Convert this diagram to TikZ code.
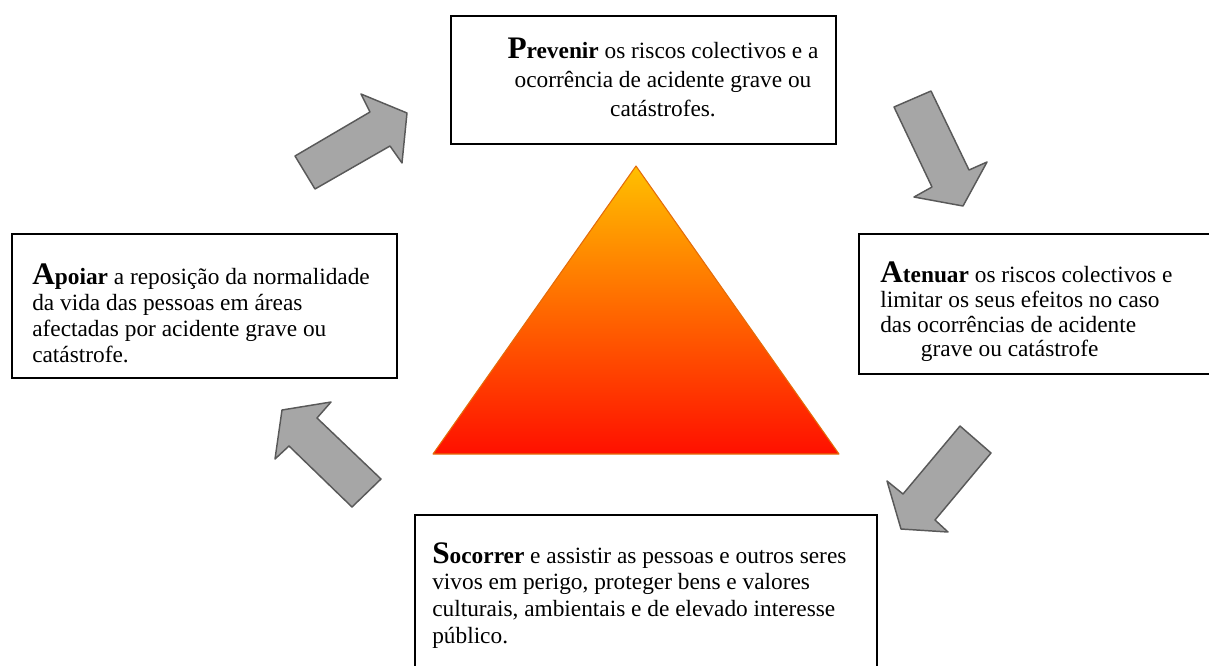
\documentclass[tikz,border=0pt]{standalone}
\usepackage{fontspec}
\setmainfont{Liberation Serif}
\usetikzlibrary{fit}
\definecolor{arrfill}{RGB}{166,166,166}
\definecolor{arrline}{RGB}{89,89,89}
\definecolor{triTop}{RGB}{255,192,0}
\definecolor{triBot}{RGB}{255,16,0}
\definecolor{triLine}{RGB}{228,108,10}
\newcommand{\leadword}[2]{{\fontsize{23.5}{23.5}\selectfont\bfseries #1}\textbf{#2}}
\begin{document}
\begin{tikzpicture}[x=0.75pt,y=-0.75pt,
  box/.style={draw=black, line width=1.2pt, inner sep=0pt},
  txt/.style={inner sep=0pt, align=left},
  blockarrow/.style={fill=arrfill, draw=arrline, line width=1.1pt, line join=round}]
\useasboundingbox (0,0) rectangle (1209,665);
\clip (0,0) rectangle (1209,665);

% boxes
\node[box, fit={(451,16)(836,144)}] (boxP) {};
\node[box, fit={(859,234)(1240,374)}] (boxA) {};
\node[box, fit={(12,234)(397,378)}] (boxL) {};
\node[box, fit={(415,515)(877,700)}] (boxS) {};

% texts
\node[txt, align=center, anchor=north, font=\fontsize{17.5}{21.6}\selectfont] (tP) at (663,38)
  {\leadword{P}{revenir} os riscos colectivos e a\\ocorrência de acidente grave ou\\catástrofes.};
\node[txt, anchor=north west, font=\fontsize{17.5}{18.4}\selectfont] (tA) at (880,262)
  {\leadword{A}{tenuar} os riscos colectivos e\\limitar os seus efeitos no caso\\das ocorrências de acidente\\\hspace*{30.5pt}grave ou catástrofe};
\node[txt, anchor=north west, font=\fontsize{17.5}{19.3}\selectfont] (tL) at (32,264)
  {\leadword{A}{poiar} a reposição da normalidade\\da vida das pessoas em áreas\\afectadas por acidente grave ou\\catástrofe.};
\node[txt, anchor=north west, font=\fontsize{17.5}{20}\selectfont] (tS) at (432,542)
  {\leadword{S}{ocorrer} e assistir as pessoas e outros seres\\vivos em perigo, proteger bens e valores\\culturais, ambientais e de elevado interesse\\público.};

% triangle
\coordinate (triApex) at (636,166);
\coordinate (triL) at (433,454);
\coordinate (triR) at (839,454);
\shadedraw[top color=triTop, bottom color=triBot, draw=triLine, line width=0.8pt, line join=round]
  (triApex) -- (triR) -- (triL) -- cycle;

% block arrows
\draw[blockarrow] (295,156) -- (370,112) -- (361,94) -- (407,113) -- (402,163) -- (390,146) -- (315,189) -- cycle;
\draw[blockarrow] (894,107) -- (931,91) -- (969,170) -- (987,162) -- (963,206) -- (914,197) -- (932,187) -- cycle;
\draw[blockarrow] (960,426) -- (991,453) -- (935,520) -- (948,532) -- (901,529) -- (887,481) -- (903,494) -- cycle;
\draw[blockarrow] (331,402) -- (282,410) -- (275,459) -- (289,446) -- (352,507) -- (381,479) -- (317,418) -- cycle;
\end{tikzpicture}
\end{document}
